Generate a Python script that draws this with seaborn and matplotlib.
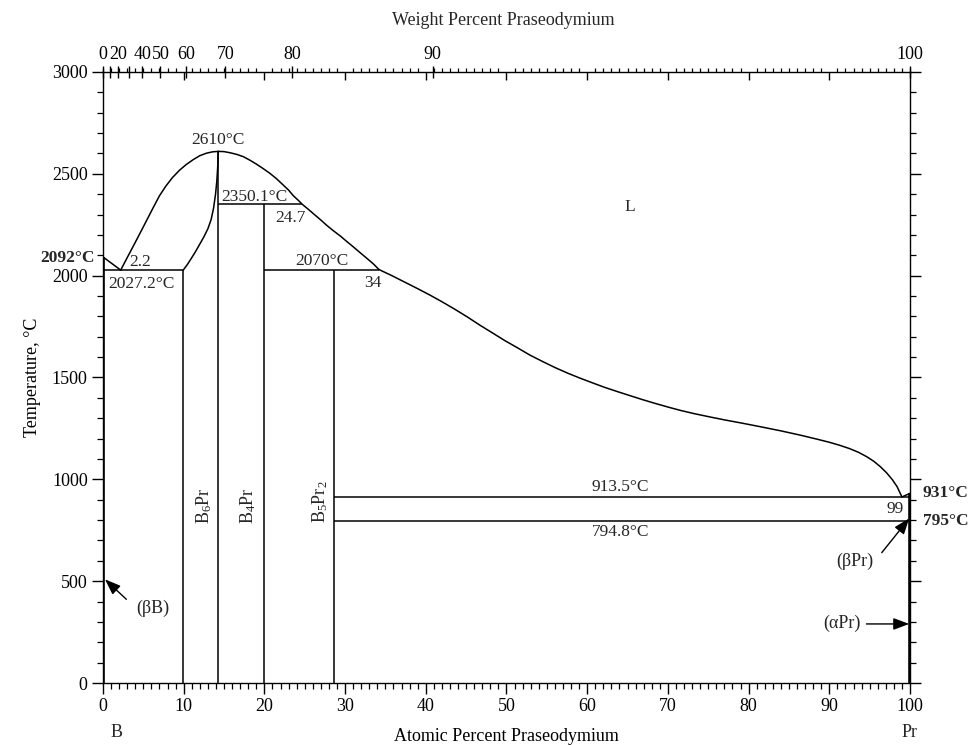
import numpy as np
import pandas as pd
import matplotlib
matplotlib.use("Agg")
import matplotlib.pyplot as plt
import seaborn as sns

# ---------------- data ----------------
# B-rich liquidus: B melting point to B/B6Pr eutectic
liq_B_x = [0.0, 2.2]
liq_B_t = [2092, 2027.2]
# liquidus from eutectic up to B6Pr congruent maximum
liq_1_x = [2.2, 3.0, 3.8, 4.8, 5.5, 6.2, 7.0, 7.8, 8.6, 9.5, 10.3, 11.2, 12.0, 12.8, 13.6, 14.29]
liq_1_t = [2027.2, 2088, 2148, 2224, 2278, 2332, 2392, 2440, 2481, 2518, 2545, 2570, 2589, 2601, 2608, 2610]
# liquidus from maximum down through the two peritectics
liq_2_x = [14.29, 15.0, 15.8, 16.6, 17.4, 18.2, 19.0, 19.8, 20.7, 21.5, 22.2, 23.0, 23.6, 24.2, 24.7,
           25.5, 26.2, 27.0, 27.7, 28.5, 29.4, 30.2, 31.0, 31.8, 32.7, 33.5, 34.2]
liq_2_t = [2610, 2609, 2603, 2595, 2584, 2567, 2548, 2527, 2502, 2476, 2450, 2420, 2392, 2370, 2350.1,
           2324, 2300, 2273, 2248, 2222, 2195, 2168, 2142, 2115, 2085, 2058, 2030]
# liquidus down to the Pr-rich eutectic
liq_3_x = [34.2, 35.8, 37.4, 39.0, 40.5, 42.0, 43.6, 45.2, 46.7, 48.3, 49.8, 51.4, 52.9, 54.5, 56.0,
           57.6, 59.1, 60.7, 62.2, 63.8, 65.3, 66.8, 68.4, 70.0, 71.5, 73.2, 75.0, 77.0, 79.3,
           81.5, 84.0, 86.4, 88.5, 90.0, 91.3, 92.5, 93.6, 94.6, 95.5, 96.3, 97.1, 97.8, 98.4, 99.0]
liq_3_t = [2030, 2000, 1968, 1936, 1905, 1872, 1835, 1796, 1757, 1718, 1681, 1645, 1610, 1578, 1549,
           1521, 1497, 1473, 1451, 1430, 1411, 1392, 1373, 1355, 1339, 1323, 1308, 1292, 1275,
           1258, 1238, 1217, 1197, 1182, 1167, 1151, 1133, 1112, 1089, 1063, 1032, 999, 964, 913.5]
# Pr-side liquidus
liq_Pr_x = [99.0, 100.0]
liq_Pr_t = [913.5, 931]
# B6Pr homogeneity boundary (B-rich side)
b6_x = [9.95, 10.5, 11.0, 11.5, 12.0, 12.5, 13.0, 13.4, 13.7, 13.95, 14.1, 14.2, 14.26, 14.29]
b6_t = [2027.2, 2057, 2088, 2120, 2155, 2190, 2230, 2275, 2330, 2400, 2460, 2520, 2570, 2610]

# horizontal invariant lines: (x start, x end, temperature as drawn)
h_x0 = [0.0, 14.29, 20.0, 28.57, 28.57]
h_x1 = [9.95, 24.7, 34.2, 100.0, 100.0]
h_t = [2027.2, 2350.1, 2030, 913.5, 794.8]
# vertical phase lines: (composition, top temperature)
v_x = [9.95, 14.29, 20.0, 28.57]
v_t = [2027.2, 2610, 2350.1, 2030]
# pure-element lines
pure_x = [0.0, 100.0]
pure_t = [2092, 931]

# weight-percent scale on top
wt_ticks = [0, 10, 20, 30, 40, 50, 60, 70, 80, 90, 100]
wt_labels = ['0', '', '20', '', '40', '50', '60', '70', '80', '90', '100']
M_B, M_PR = 10.81, 140.908

# ---------------- style ----------------
sns.set_theme(style="white")
plt.rcParams['font.family'] = ['Liberation Serif', 'DejaVu Serif']
plt.rcParams['mathtext.fontset'] = 'custom'
plt.rcParams['mathtext.rm'] = 'Liberation Serif'
plt.rcParams['mathtext.it'] = 'Liberation Serif:italic'
plt.rcParams['axes.edgecolor'] = 'black'
plt.rcParams['axes.linewidth'] = 1.0

fig = plt.figure(figsize=(9.74, 7.45), dpi=100)
ax = fig.add_axes([0.1057, 0.0832, 0.8286, 0.8202])
LW = 1.1
C = 'black'

def curve(xs, ts, lw=LW):
    df = pd.DataFrame({'x': xs, 't': ts})
    sns.lineplot(data=df, x='x', y='t', ax=ax, sort=False, color=C, lw=lw,
                 estimator=None, legend=False)

for xs, ts in [(liq_B_x, liq_B_t), (liq_1_x, liq_1_t), (liq_2_x, liq_2_t),
               (liq_3_x, liq_3_t), (liq_Pr_x, liq_Pr_t), (b6_x, b6_t)]:
    curve(xs, ts)

ax.hlines(h_t, h_x0, h_x1, colors=C, lw=LW)
ax.vlines(v_x, 0, v_t, colors=C, lw=LW)
ax.vlines(pure_x, 0, pure_t, colors=C, lw=2.6)

ax.set_xlim(0, 100)
ax.set_ylim(0, 3000)
for s in ax.spines.values():
    s.set_color('black')
    s.set_linewidth(1.0)

fs = 12.5
ax.set_xticks(np.arange(0, 101, 10))
ax.set_xticks(np.arange(0, 101, 1), minor=True)
ax.set_yticks(np.arange(0, 3001, 500))
ax.set_yticks(np.arange(0, 3001, 100), minor=True)
ax.tick_params(axis='both', which='major', direction='out', length=8, width=1.0,
               labelsize=13, colors='black', pad=3)
ax.tick_params(axis='both', which='minor', direction='out', length=4, width=0.9, colors='black')
ax.tick_params(axis='y', which='both', left=True, right=True, labelright=False)
ax.tick_params(axis='x', which='both', bottom=True, top=False)

# top axis: atomic ticks (major inward, minor outward)
secA = ax.secondary_xaxis('top')
secA.set_xticks(np.arange(10, 100, 10))
secA.set_xticks(np.arange(0, 101, 1), minor=True)
secA.tick_params(which='major', direction='in', length=6, width=1.0, labeltop=False, colors='black')
secA.tick_params(which='minor', direction='out', length=3, width=0.9, colors='black')
secA.set_xticklabels([])
secA.spines['top'].set_visible(False)

# top axis: weight percent
def wt2at(w):
    w = np.asarray(w, dtype=float)
    a = w / M_PR
    b = (100 - w) / M_B
    return 100 * a / (a + b)

secW = ax.secondary_xaxis('top')
secW.set_xticks(wt2at(wt_ticks))
secW.set_xticklabels(wt_labels)
secW.tick_params(which='major', direction='inout', length=9, width=1.0, labelsize=13,
                 pad=2, colors='black')
secW.tick_params(which='minor', length=0)
secW.spines['top'].set_visible(False)

fig.text(0.517, 0.972, 'Weight Percent Praseodymium', ha='center', va='center', fontsize=13)
ax.set_xlabel('Atomic Percent Praseodymium', fontsize=13, color='black', labelpad=9)
ax.set_ylabel('Temperature, °C', fontsize=13, color='black', labelpad=8)
ax.text(1.7, -245, 'B', ha='center', va='center', fontsize=13, clip_on=False)
ax.text(100, -245, 'Pr', ha='center', va='center', fontsize=13, clip_on=False)

# annotations
txt = [
    (4.6, 2067, '2.2'),
    (4.8, 1959, '2027.2°C'),
    (14.3, 2666, '2610°C'),
    (18.8, 2387, '2350.1°C'),
    (23.2, 2284, '24.7'),
    (27.1, 2073, '2070°C'),
    (33.5, 1963, '34'),
    (65.3, 2337, 'L'),
    (64.1, 962, '913.5°C'),
    (64.1, 741, '794.8°C'),
    (98.1, 852, '99'),
]
for x, t, s in txt:
    ax.text(x, t, s, ha='center', va='center', fontsize=fs)

ax.text(-1.0, 2087, '2092°C', ha='right', va='center', fontsize=fs, fontweight='bold', clip_on=False)
ax.text(104.4, 933, '931°C', ha='center', va='center', fontsize=fs, fontweight='bold', clip_on=False)
ax.text(104.4, 795, '795°C', ha='center', va='center', fontsize=fs, fontweight='bold', clip_on=False)

ax.text(12.5, 962, 'B$_6$Pr', rotation=90, ha='center', va='top', fontsize=13)
ax.text(18.0, 960, 'B$_4$Pr', rotation=90, ha='center', va='top', fontsize=13)
ax.text(26.9, 997, 'B$_5$Pr$_2$', rotation=90, ha='center', va='top', fontsize=13)

arrow = dict(arrowstyle='-|>,head_length=0.8,head_width=0.3', color='black', lw=1.0,
             shrinkA=0, shrinkB=0)
ax.annotate('', xy=(0.25, 509), xytext=(2.9, 411), arrowprops=arrow)
ax.text(6.2, 366, '(βB)', ha='center', va='center', fontsize=13)
ax.annotate('', xy=(99.9, 808), xytext=(96.5, 640), arrowprops=arrow)
ax.text(93.2, 596, '(βPr)', ha='center', va='center', fontsize=13)
ax.annotate('', xy=(99.9, 290), xytext=(94.6, 290), arrowprops=arrow)
ax.text(91.6, 295, '(αPr)', ha='center', va='center', fontsize=13)

fig.savefig('out.png', dpi=100, facecolor='white')
